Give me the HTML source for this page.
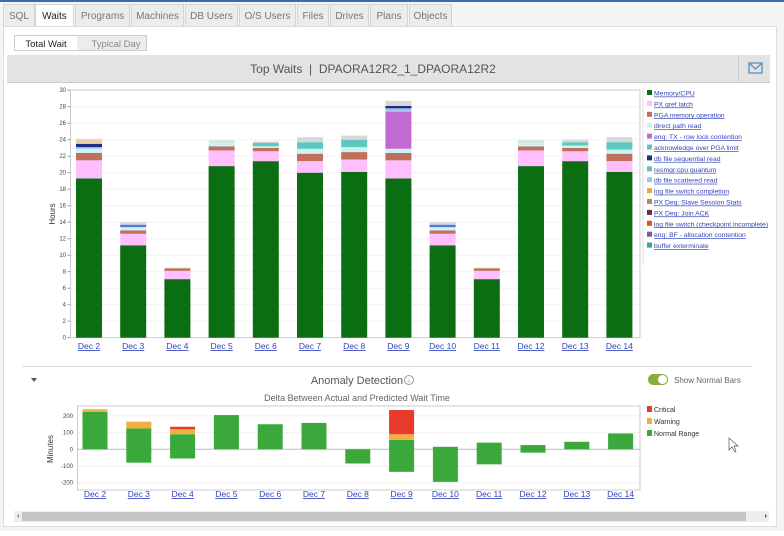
<!DOCTYPE html>
<html><head><meta charset="utf-8"><style>
body{margin:0;width:784px;height:531px;overflow:hidden;background:#fff;font-family:"Liberation Sans",sans-serif;}
</style></head><body>
<svg id="s" width="784" height="531" xmlns="http://www.w3.org/2000/svg" font-family="Liberation Sans, sans-serif"></svg>
<script>
const s=document.getElementById('s');let h='';
function R(x,y,w,hh,f,st){h+=`<rect x="${x}" y="${y}" width="${w}" height="${hh}" fill="${f}" ${st?`stroke="${st}"`:''}/>`;}
function T(x,y,t,sz,f,a,extra){h+=`<text x="${x}" y="${y}" font-size="${sz}" fill="${f}" text-anchor="${a||'start'}" ${extra||''}>${t}</text>`;}
// background
R(0,0,784,531,'#f4f4f4');R(0,0,784,2,'#3a6db0');
// tabs
const tabs=[['SQL',3,35],['Waits',35,74],['Programs',75,130],['Machines',131,184],['DB Users',185,238],['O/S Users',239,296],['Files',297,329],['Drives',330,369],['Plans',370,408],['Objects',409,452]];
tabs.forEach(t=>{R(t[1]+.5,4.5,t[2]-t[1]-1,22,t[0]=='Waits'?'#fff':'#ececec','#d4d4d4');T((t[1]+t[2])/2,19,t[0],10,t[0]=='Waits'?'#222':'#777','middle');});
// panel
R(3.5,26.5,773,500,'#fff','#ddd');
R(14.5,35.5,132,15,'#ececec','#ccc');R(15,36,62,14,'#fff');
T(46,47,'Total Wait',9.5,'#222','middle');T(116,47,'Typical Day',9.5,'#888','middle');
R(7,55,763,28,'#e3e3e3');R(7,82,763,1,'#ccc');R(738,55,1,28,'#ccc');
T(373,73,'Top Waits &#160;|&#160; DPAORA12R2_1_DPAORA12R2',12,'#555','middle');
h+='<rect x="749" y="63" width="13" height="10" fill="none" stroke="#5a8fbf" stroke-width="1.3"/><path d="M749 63 L755.5 69 L762 63" fill="none" stroke="#5a8fbf" stroke-width="1.3"/>';
// top chart
const y0=337.7,k=8.25,L=70.5,Rr=640;
for(let v=0;v<=30;v+=2){const y=y0-v*k;if(v>0)h+=`<line x1="${L}" x2="${Rr}" y1="${y}" y2="${y}" stroke="#e4e4e4" stroke-dasharray="2,2"/>`;T(66,y+2,v,6,'#444','end');h+=`<line x1="${L-3}" x2="${L}" y1="${y}" y2="${y}" stroke="#999"/>`;}
h+=`<rect x="${L}" y="90" width="${Rr-L}" height="${y0-90}" fill="none" stroke="#ccc"/>`;
T(55,214,'Hours',8,'#333','middle','transform="rotate(-90 55 214)"');
const G='#0c6e12',P='#ffbfff',B='#c0705a',C='#c8f4f4',V='#c06ad2',TL='#5cc8c0',N='#1d2f80',LB='#a8c4ee',GR='#d8d8d8',PE='#eecca0';
const data=[[[19.3,G],[21.5,P],[22.4,B],[22.9,C],[23.1,LB],[23.5,N],[23.9,PE],[24.1,GR]],
[[11.2,G],[12.6,P],[13.0,B],[13.4,C],[13.7,'#5577dd'],[14.0,GR]],
[[7.1,G],[8.1,P],[8.4,B],[8.5,GR]],
[[20.8,G],[22.7,P],[23.2,B],[23.7,C],[23.9,GR]],
[[21.4,G],[22.6,P],[23.0,B],[23.2,C],[23.6,TL],[23.8,GR]],
[[20.0,G],[21.4,P],[22.3,B],[22.9,C],[23.7,TL],[24.3,GR]],
[[20.1,G],[21.6,P],[22.5,B],[23.1,C],[24.0,TL],[24.5,GR]],
[[19.3,G],[21.5,P],[22.4,B],[22.9,C],[27.4,V],[27.8,LB],[28.1,N],[28.7,GR]],
[[11.2,G],[12.6,P],[13.0,B],[13.4,C],[13.7,'#5577dd'],[14.0,GR]],
[[7.1,G],[8.1,P],[8.4,B],[8.5,GR]],
[[20.8,G],[22.7,P],[23.2,B],[23.7,C],[23.9,GR]],
[[21.4,G],[22.6,P],[23.0,B],[23.3,C],[23.7,TL],[24.0,GR]],
[[20.1,G],[21.4,P],[22.3,B],[22.8,C],[23.7,TL],[24.3,GR]]];
data.forEach((d,i)=>{const x=76+i*44.2;let p=0;d.forEach(([v,c])=>{R(x,y0-v*k,26,(v-p)*k,c);p=v;});
T(x+13,349,'Dec '+(i+2),8.5,'#3344bb','middle','text-decoration="underline"');});
// legend
const lg=[['Memory/CPU',G],['PX qref latch',P],['PGA memory operation',B],['direct path read',C],['enq: TX - row lock contention',V],['acknowledge over PGA limit',TL],['db file sequential read',N],['resmgr:cpu quantum','#6ac0b0'],['db file scattered read',LB],['log file switch completion','#f0a840'],['PX Deq: Slave Session Stats','#a89060'],['PX Deq: Join ACK','#603050'],['log file switch (checkpoint incomplete)','#e85010'],['enq: BF - allocation contention','#7a5aa0'],['buffer exterminate','#40a090']];
h+='<line x1="643" y1="87" x2="643" y2="265" stroke="#ddd"/>';
lg.forEach((l,i)=>{const y=94+i*10.9;R(647,y-4,5,5,l[1]);T(654,y+1.5,l[0],6.8,'#3344bb','start','text-decoration="underline"');});
// separator
R(22,366,730,1,'#ddd');
h+='<path d="M31 378 L37 378 L34 382Z" fill="#555"/>';
T(357,384,'Anomaly Detection',11,'#555','middle');
h+='<circle cx="409" cy="380" r="4.5" fill="none" stroke="#888" stroke-width=".8"/>';T(409,383,'i',6,'#888','middle');
h+='<rect x="648" y="374" width="20" height="11" rx="5.5" fill="#8aac3c"/><circle cx="662.5" cy="379.5" r="4.5" fill="#fff"/>';
T(674,383,'Show Normal Bars',8,'#666');
T(357,401,'Delta Between Actual and Predicted Wait Time',9,'#666','middle');
// bottom chart
const b0=449.3,m=33.4/200,BL=77.5,BR=640;
h+=`<rect x="${BL}" y="406" width="${BR-BL}" height="84" fill="#fff" stroke="#ccc"/>`;
[200,100,-100,-200].forEach(v=>{const y=b0-v*m;h+=`<line x1="${BL}" x2="${BR}" y1="${y}" y2="${y}" stroke="#e4e4e4" stroke-dasharray="2,2"/>`;});
[200,100,0,-100,-200].forEach(v=>T(73,b0-v*m+2,v,6,'#444','end'));
h+=`<line x1="${BL}" x2="${BR}" y1="${b0}" y2="${b0}" stroke="#bbb"/>`;
T(53,449,'Minutes',8,'#333','middle','transform="rotate(-90 53 449)"');
const GN='#3aa83a',W='#f0b040',CR='#e83a2a';
const bd=[[[0,225,GN],[225,240,W]],[[-80,125,GN],[125,165,W]],[[-55,90,GN],[90,120,W],[120,135,CR]],[[0,205,GN]],[[0,150,GN]],[[0,158,GN]],[[-85,0,GN]],[[-135,57,GN],[57,90,W],[90,235,CR]],[[-195,15,GN]],[[-90,40,GN]],[[-20,25,GN]],[[0,45,GN]],[[0,95,GN]]];
bd.forEach((d,i)=>{const x=82.5+i*43.8;d.forEach(([a,b,c])=>R(x,b0-b*m,25,(b-a)*m,c));
T(x+12.5,497,'Dec '+(i+2),8.5,'#3344bb','middle','text-decoration="underline"');});
[['Critical',CR],['Warning',W],['Normal Range',GN]].forEach((l,i)=>{const y=410+i*12;R(647,y-4,5,6,l[1]);T(654,y+2,l[0],7,'#333');});
h+='<path d="M729 438 L729 450 L732 447 L735 452 L736 451 L734 446 L738 446Z" fill="#fff" stroke="#555" stroke-width=".7"/>';
// scrollbar
R(14,511,755,11,'#eee');R(22,512,724,9,'#c4c4c4');
h+='<path d="M17 516 L19 514 L19 518Z" fill="#888"/><path d="M765 514 L767 516 L765 518Z" fill="#555"/>';
s.innerHTML=h;
</script>
</body></html>
